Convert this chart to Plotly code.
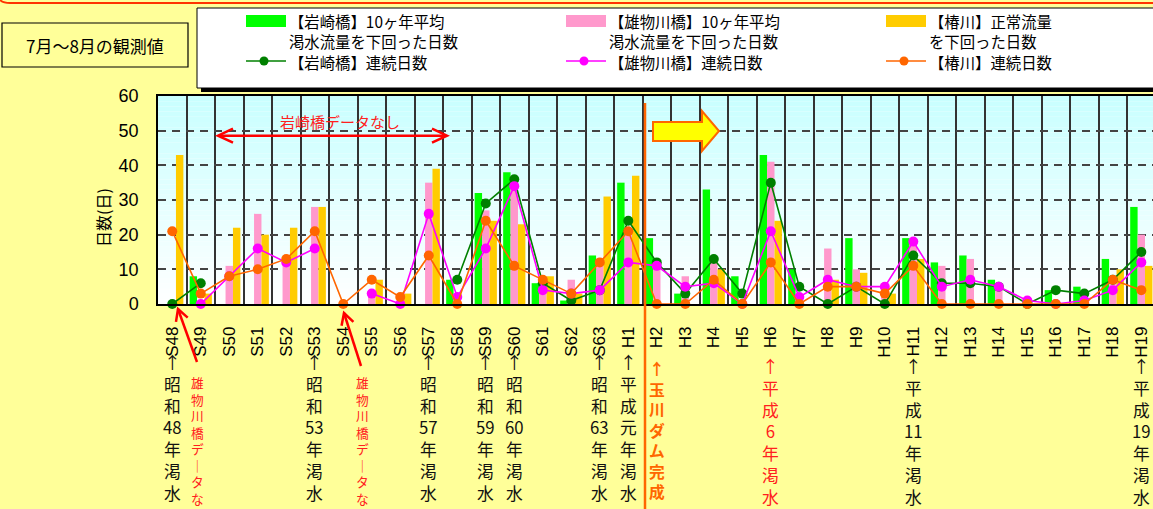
import math
import plotly.graph_objects as go

# ---------------- data ----------------
categories = ["S48", "S49", "S50", "S51", "S52", "S53", "S54", "S55", "S56", "S57",
              "S58", "S59", "S60", "S61", "S62", "S63",
              "H1", "H2", "H3", "H4", "H5", "H6", "H7", "H8", "H9", "H10",
              "H11", "H12", "H13", "H14", "H15", "H16", "H17", "H18", "H19"]

iwasaki_days = [0, 8, None, None, None, None, None, None, None, None,
                7, 32, 38, 6, 1, 14,
                35, 19, 3, 33, 8, 43, 10, 0, 19, 0, 19, 12, 14, 7, 0, 4, 5, 13, 28]
omono_days = [None, 0, 11, 26, 12, 28, None, 4, 0, 35,
              2, 27, 37, 5, 7, 11,
              22, 12, 8, 12, 0, 41, 2, 16, 10, 5, 18, 11, 13, 5, 1, 0, 1, 8, 20]
tsubaki_days = [43, 3, 22, 20, 22, 28, 0, 7, 3, 39,
                0, 24, 23, 8, 3, 31,
                37, 0, 0, 10, 0, 24, 0, 7, 9, 3, 13, 0, 0, 0, 0, 0, 0, 10, 11]

iwasaki_run = [0, 6, None, None, None, None, None, None, None, None,
               7, 29, 36, 6, 1, 4,
               24, 12, 3, 13, 3, 35, 5, 0, 5, 0, 14, 6, 6, 5, 0, 4, 3, 7, 15]
omono_run = [None, 0, 8, 16, 12, 16, None, 3, 0, 26,
             2, 16, 34, 4, 3, 4,
             12, 11, 5, 6, 0, 21, 2, 7, 5, 5, 18, 5, 7, 5, 1, 0, 1, 4, 12]
tsubaki_run = [21, 3, 8, 10, 13, 21, 0, 7, 2, 14,
               0, 24, 11, 7, 3, 12,
               21, 0, 0, 7, 0, 12, 0, 5, 5, 3, 11, 0, 0, 0, 0, 0, 0, 7, 4]

bar_names = ["【岩崎橋】10ヶ年平均渇水流量を下回った日数",
             "【雄物川橋】10ヶ年平均渇水流量を下回った日数",
             "【椿川】正常流量を下回った日数"]
line_names = ["【岩崎橋】連続日数", "【雄物川橋】連続日数", "【椿川】連続日数"]

legend_bar_text = [("【岩崎橋】10ヶ年平均", "渇水流量を下回った日数"),
                   ("【雄物川橋】10ヶ年平均", "渇水流量を下回った日数"),
                   ("【椿川】正常流量", "を下回った日数")]

drought_notes = [
    ("S48", ["↑", "昭", "和", "48", "年", "渇", "水"]),
    ("S53", ["↑", "昭", "和", "53", "年", "渇", "水"]),
    ("S57", ["↑", "昭", "和", "57", "年", "渇", "水"]),
    ("S59", ["↑", "昭", "和", "59", "年", "渇", "水"]),
    ("S60", ["↑", "昭", "和", "60", "年", "渇", "水"]),
    ("S63", ["↑", "昭", "和", "63", "年", "渇", "水"]),
    ("H1", ["↑", "平", "成", "元", "年", "渇", "水"]),
    ("H11", ["↑", "平", "成", "11", "年", "渇", "水"]),
    ("H19", ["↑", "平", "成", "19", "年", "渇", "水"]),
]
red_note = ("H6", ["↑", "平", "成", "6", "年", "渇", "水"])
dam_note = ("H2", ["↑", "玉", "川", "ダ", "ム", "完", "成"])
no_data_omono = ["雄", "物", "川", "橋", "デ", "｜", "タ", "な", "し"]

# ---------------- styling ----------------
BAR_COLORS = ["#00ff00", "#ff99cc", "#ffcc00"]
LINE_COLORS = ["#008000", "#ff00ff", "#ff6600"]
JP = "Noto Sans CJK JP"
LAT = "Liberation Sans"

W, H = 1153, 509
L, T, PW, PH = 158, 96, 995, 208


def px(x):
    return (x - L) / PW


def py(y):
    return (T + PH - y) / PH


fig = go.Figure()
for name, vals, col in zip(bar_names, [iwasaki_days, omono_days, tsubaki_days], BAR_COLORS):
    fig.add_trace(go.Bar(x=categories, y=vals, name=name, marker_color=col,
                         marker_line_width=0, showlegend=False))
for name, vals, col in zip(line_names, [iwasaki_run, omono_run, tsubaki_run], LINE_COLORS):
    fig.add_trace(go.Scatter(x=categories, y=vals, name=name, mode="lines+markers",
                             line=dict(color=col, width=1.6),
                             marker=dict(color=col, size=10),
                             connectgaps=False, cliponaxis=False, showlegend=False))

shapes = []
annotations = []

# plot background gradient
N = 40
for i in range(N):
    f = (i + 0.5) / N
    r = int(round(255 - 55 * f))
    shapes.append(dict(type="rect", xref="paper", yref="y", x0=0, x1=1,
                       y0=60 * i / N, y1=60 * (i + 1) / N, layer="below",
                       line_width=0, fillcolor=f"rgb({r},255,255)"))

# top decorative border
shapes.append(dict(type="path", xref="paper", yref="paper",
                   path=f"M {px(0)},{py(0)} Q {px(3)},{py(3)} {px(10)},{py(3)} L {px(1160)},{py(3)}",
                   line=dict(color="#ff3300", width=2)))

# top-left box
shapes.append(dict(type="rect", xref="paper", yref="paper",
                   x0=px(2), x1=px(188), y0=py(67), y1=py(23),
                   line=dict(color="black", width=1.2)))
annotations.append(dict(xref="paper", yref="paper", x=px(95), y=py(45),
                        xanchor="center", yanchor="middle",
                        text="7月～8月の観測値", showarrow=False,
                        font=dict(family=JP, size=17, color="black")))

# legend box with shadow
shapes.append(dict(type="rect", xref="paper", yref="paper",
                   x0=px(201), x1=px(1160), y0=py(92), y1=py(12),
                   line_width=0, fillcolor="black"))
shapes.append(dict(type="rect", xref="paper", yref="paper",
                   x0=px(197), x1=px(1158), y0=py(88), y1=py(8),
                   line=dict(color="black", width=1), fillcolor="white"))
col_x = [246, 566, 886]
LEG_FS = 20 / 1.3
for cx, col, lcol, (t1, t2), lname in zip(col_x, BAR_COLORS, LINE_COLORS, legend_bar_text, line_names):
    shapes.append(dict(type="rect", xref="paper", yref="paper",
                       x0=px(cx), x1=px(cx + 40), y0=py(27), y1=py(15),
                       line_width=0, fillcolor=col))
    shapes.append(dict(type="line", xref="paper", yref="paper",
                       x0=px(cx), x1=px(cx + 40), y0=py(61), y1=py(61),
                       line=dict(color=lcol, width=1.6)))
    shapes.append(dict(type="circle", xref="paper", yref="paper",
                       x0=px(cx + 18 - 4.5), x1=px(cx + 18 + 4.5),
                       y0=py(61 + 4.5), y1=py(61 - 4.5),
                       line_width=0, fillcolor=lcol))
    annotations.append(dict(xref="paper", yref="paper", x=px(cx + 42), y=py(31),
                            xanchor="left", yanchor="middle", align="left",
                            text=f"{t1}<br>{t2}", showarrow=False, borderpad=0,
                            font=dict(family=JP, size=LEG_FS, color="black")))
    annotations.append(dict(xref="paper", yref="paper", x=px(cx + 42), y=py(62),
                            xanchor="left", yanchor="middle", text=lname,
                            showarrow=False, borderpad=0,
                            font=dict(family=JP, size=LEG_FS, color="black")))

# "岩崎橋データなし" double arrow
ay = 135.7
shapes.append(dict(type="line", xref="paper", yref="paper",
                   x0=px(219), x1=px(446), y0=py(ay), y1=py(ay),
                   line=dict(color="#ff0000", width=2.5)))
for tip, back in [(218, 233), (447, 432)]:
    shapes.append(dict(type="path", xref="paper", yref="paper",
                       path=f"M {px(back)},{py(ay - 7)} L {px(tip)},{py(ay)} L {px(back)},{py(ay + 7)}",
                       line=dict(color="#ff0000", width=2.5)))
annotations.append(dict(xref="paper", yref="paper", x=px(340), y=py(121),
                        xanchor="center", yanchor="middle",
                        text="岩崎橋データなし", showarrow=False,
                        font=dict(family=JP, size=15, color="#ff2020")))

# yellow block arrow
pts = [(653, 122), (702, 122), (702, 111), (719, 131), (702, 151), (702, 141), (653, 141)]
path = "M " + " L ".join(f"{px(a)},{py(b)}" for a, b in pts) + " Z"
shapes.append(dict(type="path", xref="paper", yref="paper", path=path,
                   fillcolor="#ffff00", line=dict(color="#ff6600", width=2)))

# dam completion vertical line
shapes.append(dict(type="line", xref="paper", yref="paper",
                   x0=px(645), x1=px(645), y0=py(103), y1=py(515),
                   line=dict(color="#ff6600", width=2.5)))

# red pointer arrows for 雄物川橋データなし
for (sx, sy), (tx, ty) in [((197, 362), (178, 309)), ((361, 366), (344, 313))]:
    shapes.append(dict(type="line", xref="paper", yref="paper",
                       x0=px(sx), y0=py(sy), x1=px(tx), y1=py(ty),
                       line=dict(color="#ff0000", width=2.5)))
    dx, dy = sx - tx, sy - ty
    d = math.hypot(dx, dy)
    ux, uy = dx / d, dy / d
    wings = []
    for ang in (0.5, -0.5):
        ca, sa = math.cos(ang), math.sin(ang)
        wx = tx + 13 * (ux * ca - uy * sa)
        wy = ty + 13 * (ux * sa + uy * ca)
        wings.append((wx, wy))
    shapes.append(dict(type="path", xref="paper", yref="paper",
                       path=f"M {px(wings[0][0])},{py(wings[0][1])} L {px(tx)},{py(ty)} L {px(wings[1][0])},{py(wings[1][1])}",
                       line=dict(color="#ff0000", width=2.5)))

RED_STEP = 16.5
for cx in (197, 362):
    annotations.append(dict(xref="paper", yref="paper", x=px(cx),
                            y=py(382 + RED_STEP * (len(no_data_omono) - 1) / 2),
                            text="<br>".join(no_data_omono), showarrow=False,
                            xanchor="center", yanchor="middle", borderpad=0,
                            font=dict(family=JP, size=RED_STEP / 1.3, color="#ff2020")))


def vertical_note(cat, tokens, color, y0, step, bold=False):
    toks = [f"<b>{t}</b>" for t in tokens] if bold else tokens
    annotations.append(dict(xref="x", yref="paper", x=cat,
                            y=py(y0 + step * (len(tokens) - 1) / 2),
                            text="<br>".join(toks), showarrow=False,
                            xanchor="center", yanchor="middle", borderpad=0,
                            font=dict(family=JP, size=step / 1.3, color=color)))


for cat, toks in drought_notes:
    if cat.startswith("S") or cat == "H1":
        vertical_note(cat, toks, "#111111", 362, 21.8)
    else:
        vertical_note(cat, toks, "#111111", 366, 21.8)
vertical_note(red_note[0], red_note[1], "#ff2020", 366, 21.8)
vertical_note(dam_note[0], dam_note[1], "#ff6600", 368, 20.5, bold=True)

# y-axis title
annotations.append(dict(xref="paper", yref="paper", x=px(103), y=py(218),
                        xanchor="center", yanchor="middle",
                        text="日数(日)", textangle=-90, showarrow=False,
                        font=dict(family=JP, size=16, color="black")))

fig.update_layout(
    width=W, height=H,
    margin=dict(l=L, r=0, t=T, b=H - T - PH, pad=0),
    paper_bgcolor="#ffff99", plot_bgcolor="#ffffff",
    barmode="group", bargap=0.22, bargroupgap=0,
    showlegend=False,
    shapes=shapes, annotations=annotations,
    xaxis=dict(type="category", categoryorder="array", categoryarray=categories,
               range=[-0.5, 34.41], tickson="boundaries",
               showgrid=True, gridcolor="#333333", gridwidth=1.5,
               showline=True, linecolor="black", linewidth=1.5, mirror=True,
               ticks="", tickangle=-90, ticklabelstandoff=14,
               tickfont=dict(family=LAT, size=17, color="black")),
    yaxis=dict(range=[0, 60], dtick=10, showgrid=True, gridcolor="#444444",
               gridwidth=1.5, griddash="8px,6px", zeroline=False,
               showline=True, linecolor="black", linewidth=1.5,
               ticks="", ticklabelstandoff=14,
               tickfont=dict(family=LAT, size=18, color="black")),
)

fig.write_html(
    "out.html",
    config={"displayModeBar": False},
    post_script="document.body.style.margin='0px';document.body.style.padding='0px';"
                "document.body.style.overflow='hidden';document.body.style.background='#ffff99';",
)
